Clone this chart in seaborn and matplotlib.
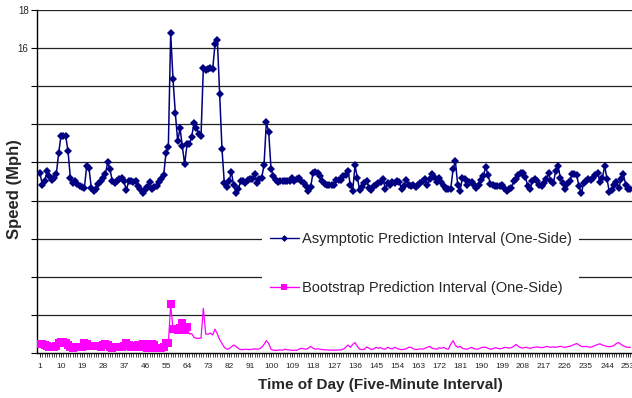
import numpy as np
import pandas as pd
import seaborn as sns
import matplotlib
matplotlib.use("Agg")
import matplotlib.pyplot as plt
from matplotlib.lines import Line2D

asymptotic = [
    9.42, 8.84, 9.0, 9.54, 9.3, 9.1, 9.2, 9.4, 10.5, 11.4,
    11.4, 11.4, 10.6, 9.2, 8.9, 9.0, 8.85, 8.75, 8.7, 8.65,
    9.8, 9.7, 8.65, 8.5, 8.6, 8.85, 9.0, 9.2, 9.4, 10.0,
    9.65, 9.0, 8.9, 9.0, 9.15, 9.2, 9.0, 8.55, 9.0, 9.05,
    8.95, 9.0, 8.75, 8.6, 8.4, 8.55, 8.7, 8.95, 8.6, 8.7,
    8.75, 8.95, 9.15, 9.35, 10.5, 10.8, 16.77, 14.37, 12.58, 11.12,
    11.79, 10.86, 9.9, 10.95, 10.95, 11.35, 12.05, 11.82, 11.5, 11.4,
    14.98, 14.86, 14.9, 14.93, 14.9, 16.2, 16.44, 13.58, 10.68, 8.9,
    8.7, 9.0, 9.5, 8.8, 8.4, 8.6, 9.0, 9.0, 8.9, 9.1,
    9.15, 9.15, 9.4, 8.9, 9.15, 9.2, 9.86, 12.1, 11.6, 9.67,
    9.28, 9.1, 8.95, 9.0, 9.03, 9.03, 9.03, 9.05, 9.2, 9.03,
    9.15, 9.19, 9.0, 8.9, 8.77, 8.5, 8.73, 9.45, 9.5, 9.45,
    9.28, 9.03, 8.85, 8.8, 8.8, 8.8, 8.8, 9.1, 9.1, 9.1,
    9.28, 9.36, 9.57, 8.8, 8.5, 9.84, 9.19, 8.55, 8.7, 8.9,
    9.05, 8.64, 8.55, 8.77, 8.8, 8.9,
    8.96, 9.14, 8.61, 8.93, 8.84, 8.96, 8.93, 9.02, 8.96, 8.58,
    8.75, 9.07, 8.84, 8.75, 8.84, 8.72, 8.84, 8.93, 9.02, 9.14,
    8.84, 9.14, 9.37, 9.25, 8.96, 9.19, 8.96, 8.75, 8.61, 8.58,
    8.58, 9.63, 10.07, 8.84, 8.49, 9.19, 9.11, 8.84, 8.96, 8.96,
    8.84, 8.67, 8.84, 9.07, 9.28, 9.77, 9.32, 8.89, 8.84, 8.75,
    8.75,
    8.75, 8.79, 8.67, 8.49, 8.58, 8.67, 9.02, 9.14, 9.32, 9.42,
    9.46, 9.25, 8.75, 8.61, 9.02, 9.14, 9.02, 8.79, 8.75, 8.93,
    9.14, 9.42, 9.02, 8.93, 9.54, 9.81, 9.19, 8.93, 8.58, 8.89,
    9.02, 9.37, 9.37, 9.32, 8.75, 8.37, 8.93, 9.02, 9.11, 9.07,
    9.19, 9.32, 9.46, 8.96, 9.19, 9.81, 9.11, 8.44, 8.54, 8.84,
    8.96, 8.67, 9.11, 9.37, 8.84, 8.58, 8.6,
]

bootstrap = [
    0.45, 0.45, 0.42, 0.35, 0.33, 0.32, 0.33, 0.35, 0.55, 0.6,
    0.6, 0.55, 0.4, 0.3, 0.28, 0.3, 0.3, 0.3, 0.32, 0.5,
    0.48, 0.38, 0.35, 0.36, 0.38, 0.35, 0.3, 0.42, 0.45, 0.4,
    0.3, 0.28, 0.3, 0.3, 0.3, 0.32, 0.35, 0.55, 0.4, 0.32,
    0.3, 0.35, 0.4, 0.33, 0.45, 0.45, 0.25, 0.25, 0.45, 0.42,
    0.25, 0.25, 0.28, 0.3, 0.5, 0.5, 2.56, 1.25, 1.28, 1.22,
    1.3, 1.55, 1.2, 1.35, 1.0, 1.02, 0.82, 0.77, 0.77, 0.78,
    2.35, 1.0, 0.98, 1.05, 0.95, 1.25, 1.0, 0.7, 0.5, 0.3,
    0.2, 0.22, 0.32, 0.42, 0.35, 0.24, 0.18, 0.18, 0.2, 0.19,
    0.18, 0.2, 0.22, 0.2, 0.22, 0.3, 0.45, 0.65, 0.5, 0.2,
    0.15, 0.14, 0.15, 0.16, 0.15, 0.2, 0.17, 0.16, 0.14, 0.15,
    0.14, 0.2, 0.25, 0.22, 0.2, 0.25, 0.35, 0.25, 0.2, 0.22,
    0.2, 0.18, 0.17, 0.16, 0.16, 0.15, 0.16, 0.15, 0.16, 0.17,
    0.2, 0.3, 0.42, 0.3, 0.45, 0.55, 0.35, 0.2, 0.18, 0.2,
    0.32, 0.25, 0.18, 0.22, 0.3, 0.25, 0.28, 0.22, 0.2, 0.3,
    0.25, 0.22, 0.3, 0.24, 0.2, 0.18, 0.2, 0.22, 0.3, 0.3,
    0.22, 0.18, 0.2, 0.22, 0.2, 0.25, 0.3, 0.35, 0.25, 0.22,
    0.2, 0.28, 0.25, 0.3, 0.22, 0.2, 0.45, 0.65, 0.4, 0.3,
    0.35, 0.25, 0.22, 0.2, 0.25, 0.3, 0.22, 0.2, 0.22, 0.28,
    0.3, 0.3, 0.25, 0.2, 0.22, 0.28, 0.25, 0.22, 0.24, 0.3,
    0.28, 0.26, 0.28, 0.35, 0.45, 0.35, 0.28, 0.26, 0.3, 0.28,
    0.25, 0.28, 0.3, 0.32, 0.3, 0.28, 0.3, 0.35, 0.32, 0.3,
    0.32, 0.3, 0.33, 0.35, 0.32, 0.3, 0.33, 0.35, 0.4, 0.45,
    0.5, 0.42, 0.35, 0.33, 0.35, 0.32, 0.3, 0.35, 0.4, 0.45,
    0.48, 0.42, 0.38, 0.35, 0.33, 0.35, 0.4, 0.5, 0.55, 0.45,
    0.38, 0.32, 0.3, 0.3,
]

n = min(len(asymptotic), len(bootstrap))
interval = list(range(1, n + 1))
tick_labels = [str(v) for v in range(1, 254, 9)]
y_tick_values = list(range(0, 19, 2))
y_tick_labels = ["" if v < 16 else str(v) for v in y_tick_values]

df = pd.DataFrame({
    "interval": interval,
    "asym": asymptotic[:n],
    "boot": bootstrap[:n],
})

sns.set_theme(style="white")
plt.rcParams["font.family"] = ["Liberation Sans", "DejaVu Sans"]

fig = plt.figure(figsize=(6.32, 3.98), dpi=100)
ax = fig.add_axes([0.0585, 0.113, 0.9415, 0.862])

navy = "#000080"
pink = "#FF00FF"

for yv in y_tick_values[1:]:
    ax.axhline(yv, color="#222222", lw=0.9, zorder=0)

sns.lineplot(data=df, x="interval", y="boot", ax=ax, color=pink, lw=0.9,
             marker="s", markersize=5.2, markeredgewidth=0, markevery=list(range(64)),
             zorder=3)
sns.lineplot(data=df, x="interval", y="asym", ax=ax, color=navy, lw=1.1,
             marker="D", markersize=3.8, markeredgewidth=0, zorder=4)

ax.set_xlim(-0.3, 254.7)
ax.set_ylim(0, 18)
ax.set_yticks(y_tick_values)
ax.set_yticklabels(y_tick_labels, fontsize=7)
ax.set_xticks(list(range(1, 254, 9)))
ax.set_xticklabels(tick_labels, fontsize=6)
ax.set_xticks(list(range(1, n + 1)), minor=True)
ax.tick_params(axis="y", which="major", direction="out", length=4, width=0.8,
               color="black", left=True, pad=2)
ax.tick_params(axis="x", which="major", direction="out", length=3, width=0.6,
               color="black", bottom=True, pad=4)
ax.tick_params(axis="x", which="minor", direction="out", length=3, width=0.5,
               color="black", bottom=True)

for side in ["top", "right"]:
    ax.spines[side].set_visible(False)
ax.spines["left"].set_color("black")
ax.spines["bottom"].set_color("black")
ax.spines["left"].set_linewidth(1.0)
ax.spines["bottom"].set_linewidth(1.0)

ax.set_xlabel("Time of Day (Five-Minute Interval)", fontsize=11, fontweight="bold")
ax.xaxis.set_label_coords(0.577, -0.073)
ax.set_ylabel("Speed (Mph)", fontsize=12, fontweight="bold")
ax.yaxis.set_label_coords(-0.026, 0.478)

handles = [
    Line2D([], [], color=navy, lw=1.0, marker="D", markersize=3.5, markeredgewidth=0),
    Line2D([], [], color=pink, lw=1.0, marker="s", markersize=5, markeredgewidth=0),
]
labels = ["Asymptotic Prediction Interval (One-Side)",
          "Bootstrap Prediction Interval (One-Side)"]
leg = ax.legend(handles, labels, loc="center", bbox_to_anchor=(0.645, 0.262),
                frameon=True, facecolor="white", edgecolor="none", framealpha=1,
                fontsize=10.5, labelspacing=2.4, handlelength=2.0, handletextpad=0.2,
                borderpad=0.5, fancybox=False)
leg.set_zorder(5)

fig.savefig("out.png", dpi=100)
